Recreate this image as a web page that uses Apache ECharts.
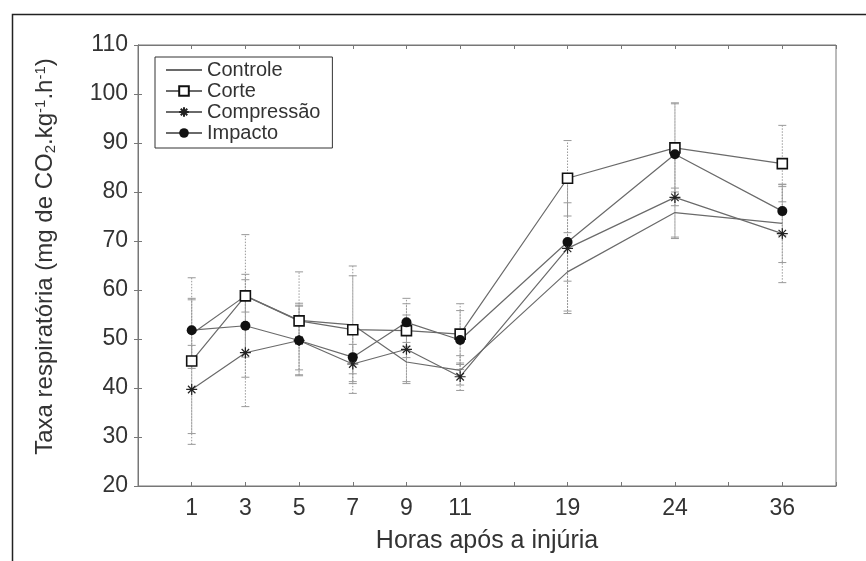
<!DOCTYPE html>
<html>
<head>
<meta charset="utf-8">
<script src="https://cdn.jsdelivr.net/npm/echarts@6/dist/echarts.min.js"></script>
<style>
html,body{margin:0;padding:0;background:#fff;}
#c{width:866px;height:561px;}
</style>
</head>
<body>
<div id="c"></div>
<script>
// Categories (hours after injury) and their slot on the axis
const hours = ['1','3','5','7','9','11','19','24','36'];
const hourPos = [1,2,3,4,5,6,8,10,12];
const yTicks = [20,30,40,50,60,70,80,90,100,110];

// Series means
const controle   = [51.0, 58.8, 53.8, 52.9, 45.3, 43.6, 63.7, 75.8, 73.6];
const corte      = [45.5, 58.8, 53.7, 51.9, 51.7, 51.0, 82.8, 89.0, 85.8];
const compressao = [39.7, 47.2, 49.7, 44.9, 47.9, 42.3, 68.5, 78.9, 71.5];
const impacto    = [51.8, 52.7, 49.7, 46.3, 53.4, 49.8, 69.8, 87.7, 76.1];

// Error bar half-widths
const controleErr   = [7, 3.3, 3.5, 10, 4, 3, 8, 5, 8];
const corteErr      = [17, 12.5, 10, 13, 5.5, 6.2, 7.7, 9, 7.8];
const compressaoErr = [9, 11, 7.2, 4, 7, 2.8, 13.3, 8.4, 10];
const impactoErr    = [6.5, 10.5, 7, 5, 4.9, 6, 8, 10.5, 5];

const FONT = "'Liberation Sans', Arial, sans-serif";
const TXT = '#333';

function pts(vals){ return vals.map((v,i)=>[hourPos[i], v]); }
function errData(vals, errs){ return vals.map((v,i)=>[hourPos[i], v-errs[i], v+errs[i]]); }

function errSeries(vals, errs){
  return {
    type:'custom',
    silent:true,
    z:1,
    data: errData(vals, errs),
    encode:{x:0, y:[1,2]},
    renderItem: function(params, api){
      const x = api.value(0);
      const lo = api.coord([x, api.value(1)]);
      const hi = api.coord([x, api.value(2)]);
      const w = 4;
      const st = {stroke:'#999', lineWidth:1, lineDash:[1.5,1.5]};
      const cs = {stroke:'#999', lineWidth:1};
      return {type:'group', children:[
        {type:'line', shape:{x1:lo[0], y1:lo[1], x2:hi[0], y2:hi[1]}, style:st},
        {type:'line', shape:{x1:lo[0]-w, y1:lo[1], x2:lo[0]+w, y2:lo[1]}, style:cs},
        {type:'line', shape:{x1:hi[0]-w, y1:hi[1], x2:hi[0]+w, y2:hi[1]}, style:cs}
      ]};
    }
  };
}

const asterisk = 'path://M5,0L5,10M0,5L10,5M1.6,1.6L8.4,8.4M1.6,8.4L8.4,1.6';

const lineStyle = {color:'#6a6a6a', width:1.2};

const chart = echarts.init(document.getElementById('c'), null, {renderer:'canvas'});
chart.setOption({
  animation:false,
  backgroundColor:'#fff',
  textStyle:{fontFamily:FONT, color:TXT},
  graphic:[
    {type:'rect', left:10, top:12, shape:{width:900, height:600}, style:{fill:'none', stroke:'#222', lineWidth:1.5}, z:-10}
  ],
  grid:{left:138, right:30, top:45, bottom:75, show:true, borderColor:'#777', borderWidth:1},
  legend:{
    orient:'vertical', left:155, top:57,
    data:[{name:'Controle', itemStyle:{opacity:0}},'Corte','Compressão','Impacto'],
    itemWidth:36, itemHeight:12, itemGap:1,
    borderColor:'#333', borderWidth:1, padding:[3,12,5,10],
    backgroundColor:'#fff',
    textStyle:{fontFamily:FONT, fontSize:20, lineHeight:20, color:TXT}
  },
  xAxis:[{
    type:'value', min:0, max:13, interval:1,
    name:'Horas após a injúria', nameLocation:'middle', nameGap:43,
    nameTextStyle:{fontFamily:FONT, fontSize:25, color:TXT},
    axisLine:{lineStyle:{color:'#777'}},
    axisTick:{inside:true, length:4, lineStyle:{color:'#777'}},
    splitLine:{show:false},
    axisLabel:{fontFamily:FONT, fontSize:23, color:TXT, margin:11,
      formatter:function(v){const i=hourPos.indexOf(v); return i>=0?hours[i]:'';}}
  },{
    type:'value', position:'top', min:0, max:13, interval:1,
    axisLine:{show:true, lineStyle:{color:'#777'}},
    axisTick:{inside:true, length:4, lineStyle:{color:'#777'}},
    axisLabel:{show:false}, splitLine:{show:false}
  }],
  yAxis:[{
    type:'value', min:yTicks[0], max:yTicks[yTicks.length-1], interval:10,
    name:'{a|Taxa respiratória (mg de CO}{s|2}{a|.kg}{p|-1}{a|.h}{p|-1}{a|)}',
    nameLocation:'middle', nameGap:80,
    nameTextStyle:{padding:[0,0,0,18], rich:{
      a:{fontFamily:FONT, fontSize:24, color:TXT},
      s:{fontFamily:FONT, fontSize:15, color:TXT, padding:[10,0,0,0]},
      p:{fontFamily:FONT, fontSize:15, color:TXT, padding:[0,0,10,0]}
    }},
    axisLine:{show:true, lineStyle:{color:'#777'}},
    axisTick:{show:true, inside:true, length:4, lineStyle:{color:'#777'}},
    splitLine:{show:false},
    axisLabel:{fontFamily:FONT, fontSize:23, color:TXT, margin:10}
  },{
    type:'value', position:'right', min:20, max:110, interval:10,
    axisLine:{show:true, lineStyle:{color:'#777'}},
    axisTick:{show:true, inside:true, length:4, lineStyle:{color:'#777'}},
    axisLabel:{show:false}, splitLine:{show:false}
  }],
  series:[
    errSeries(controle, controleErr),
    errSeries(corte, corteErr),
    errSeries(compressao, compressaoErr),
    errSeries(impacto, impactoErr),
    {name:'Controle', type:'line', data:pts(controle), symbol:'none', lineStyle:lineStyle, itemStyle:{color:'#555'}, z:3},
    {name:'Corte', type:'line', data:pts(corte), symbol:'rect', symbolSize:10, lineStyle:lineStyle,
      itemStyle:{color:'#fff', borderColor:'#111', borderWidth:1.6}, z:4},
    {name:'Compressão', type:'line', data:pts(compressao), symbol:asterisk, symbolSize:11, lineStyle:lineStyle,
      itemStyle:{color:'rgba(0,0,0,0)', borderColor:'#222', borderWidth:1.2}, z:4},
    {name:'Impacto', type:'line', data:pts(impacto), symbol:'circle', symbolSize:10, lineStyle:lineStyle,
      itemStyle:{color:'#111', borderColor:'#111', borderWidth:0}, z:4}
  ]
});
</script>
</body>
</html>
